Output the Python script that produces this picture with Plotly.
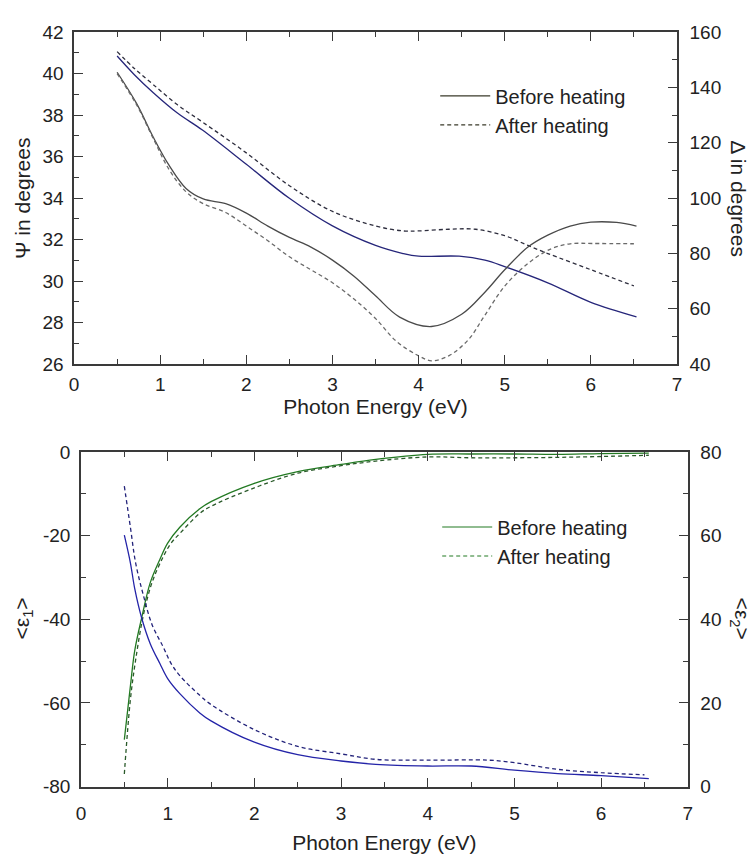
import plotly.graph_objects as go

# ---------------- Top panel: Psi (left axis) and Delta (right axis) ----------------
psi_before_x = [0.5, 0.7, 0.92, 1.2, 1.49, 2.0, 2.5, 3.0, 3.5, 3.82, 4.0, 4.47, 4.77, 5.0, 5.5, 6.0, 6.53]
psi_before_y = [40.85, 39.95, 39.08, 38.1, 37.28, 35.63, 33.99, 32.66, 31.72, 31.33, 31.2, 31.2, 31.01, 30.7, 29.92, 28.98, 28.28]

psi_after_x = [0.5, 0.7, 0.92, 1.2, 1.49, 2.0, 2.5, 3.0, 3.5, 3.82, 4.0, 4.35, 4.66, 5.0, 5.27, 5.5, 6.0, 6.5]
psi_after_y = [41.06, 40.25, 39.47, 38.5, 37.67, 36.18, 34.6, 33.36, 32.66, 32.42, 32.42, 32.5, 32.5, 32.19, 31.72, 31.33, 30.55, 29.77]

delta_before_x = [0.5, 0.73, 0.92, 1.1, 1.3, 1.5, 1.76, 2.0, 2.25, 2.5, 2.75, 3.0, 3.25, 3.5, 3.78, 4.15, 4.5, 4.77, 5.0, 5.27, 5.5, 5.76, 6.0, 6.3, 6.53]
delta_before_y = [145.5, 134.0, 122.0, 112.0, 103.5, 99.7, 98.0, 94.6, 89.9, 85.8, 82.3, 77.6, 71.8, 64.7, 57.0, 53.6, 58.0, 66.0, 74.1, 82.3, 86.6, 89.9, 91.3, 91.2, 89.9]

delta_after_x = [0.5, 0.73, 0.92, 1.1, 1.3, 1.5, 1.76, 2.0, 2.25, 2.5, 2.75, 3.0, 3.25, 3.5, 3.74, 4.0, 4.15, 4.35, 4.58, 4.77, 5.0, 5.27, 5.54, 5.76, 6.03, 6.5]
delta_after_y = [145.0, 133.5, 121.5, 110.5, 102.3, 98.0, 94.8, 89.9, 84.6, 78.8, 74.1, 69.4, 63.5, 56.5, 48.3, 43.0, 41.2, 43.0, 48.9, 57.7, 68.2, 76.4, 81.7, 83.5, 83.6, 83.5]

# ---------------- Bottom panel: eps1 (left axis) and eps2 (right axis) ----------------
eps1_before_x = [0.5, 0.57, 0.62, 0.7, 0.8, 0.91, 1.0, 1.14, 1.37, 1.5, 2.0, 2.5, 3.0, 3.4, 4.0, 4.5, 5.0, 5.5, 6.0, 6.55]
eps1_before_y = [-68.8, -56.0, -47.5, -39.7, -31.2, -25.7, -21.8, -18.0, -13.6, -11.9, -7.5, -4.7, -3.0, -1.8, -0.6, -0.5, -0.5, -0.6, -0.4, -0.3]

eps1_after_x = [0.5, 0.57, 0.63, 0.72, 0.82, 0.95, 1.04, 1.14, 1.37, 1.5, 2.0, 2.5, 3.0, 3.4, 4.0, 4.5, 5.0, 5.5, 6.0, 6.55]
eps1_after_y = [-77.0, -59.2, -49.8, -39.0, -31.2, -25.0, -21.8, -19.5, -14.7, -13.0, -8.6, -5.1, -3.3, -2.2, -1.2, -1.4, -1.4, -1.3, -1.1, -0.8]

eps2_before_x = [0.5, 0.57, 0.62, 0.7, 0.8, 0.91, 1.0, 1.14, 1.37, 1.5, 2.0, 2.5, 3.0, 3.4, 4.0, 4.5, 5.0, 5.5, 6.0, 6.55]
eps2_before_y = [60.1, 53.5, 47.3, 40.3, 34.1, 29.4, 25.8, 22.2, 17.6, 15.7, 10.6, 7.6, 6.1, 5.3, 4.9, 4.9, 3.9, 3.1, 2.6, 1.9]

eps2_after_x = [0.5, 0.57, 0.63, 0.72, 0.82, 0.95, 1.04, 1.14, 1.37, 1.5, 2.0, 2.5, 3.0, 3.4, 4.0, 4.7, 5.0, 5.5, 6.0, 6.5]
eps2_after_y = [71.8, 62.0, 53.5, 45.7, 38.7, 33.3, 29.4, 26.5, 21.8, 19.6, 13.6, 9.6, 7.8, 6.5, 6.3, 6.3, 5.7, 4.1, 3.3, 2.8]

legend_labels = ["Before heating", "After heating"]
eps1_tickvals = [-80, -60, -40, -20, 0]
eps1_ticktext = ["-80", "-60", "-40", "-20", "0"]

W, H = 754, 858
FONT = "Liberation Sans, Arial, sans-serif"
AX = "#3a3a3a"
DASH = "4px,3px"

fig = go.Figure()

def line(x, y, color, dash, xa, ya):
    fig.add_trace(go.Scatter(x=x, y=y, mode="lines", xaxis=xa, yaxis=ya,
                             line=dict(color=color, width=1.3, dash=dash, shape="spline", smoothing=1.0),
                             showlegend=False, hoverinfo="skip"))

line(psi_before_x, psi_before_y, "#26267a", "solid", "x", "y")
line(psi_after_x, psi_after_y, "#2e2e3e", DASH, "x", "y")
line(delta_before_x, delta_before_y, "#4a4a4a", "solid", "x", "y2")
line(delta_after_x, delta_after_y, "#6a6a6a", DASH, "x", "y2")

line(eps1_before_x, eps1_before_y, "#237a23", "solid", "x2", "y3")
line(eps1_after_x, eps1_after_y, "#2a5a2a", DASH, "x2", "y3")
line(eps2_before_x, eps2_before_y, "#2424a8", "solid", "x2", "y4")
line(eps2_after_x, eps2_after_y, "#23237a", DASH, "x2", "y4")

# legend entries
for name, dash in zip(legend_labels, ["solid", DASH]):
    fig.add_trace(go.Scatter(x=[None], y=[None], mode="lines", xaxis="x", yaxis="y", name=name,
                             line=dict(color="#3a3a2a", width=1.2, dash=dash), legend="legend"))
for name, dash in zip(legend_labels, ["solid", DASH]):
    fig.add_trace(go.Scatter(x=[None], y=[None], mode="lines", xaxis="x2", yaxis="y3", name=name,
                             line=dict(color="#237a23", width=1.2, dash=dash), legend="legend2"))

def px_x(p):
    return p / W

def px_y(p):
    return 1 - p / H

common = dict(showgrid=False, zeroline=False, showline=True, linecolor=AX, linewidth=1.5,
              ticks="inside", tickcolor=AX, tickwidth=1.2, ticklen=9,
              tickfont=dict(family=FONT, size=19, color="#222"))

fig.update_layout(
    width=W, height=H, autosize=False,
    margin=dict(l=0, r=0, t=0, b=0),
    paper_bgcolor="white", plot_bgcolor="white",
    font=dict(family=FONT, color="#222"),
    xaxis=dict(domain=[px_x(70), px_x(681)], range=[0, 7], dtick=1, anchor="y", mirror="ticks",
               minor=dict(dtick=0.5, ticks="inside", ticklen=5, tickcolor=AX),
               ticklabelstandoff=2,
               title=dict(text="Photon Energy (eV)", font=dict(size=21, family=FONT), standoff=6),
               **common),
    yaxis=dict(domain=[px_y(363), px_y(22.7)], range=[26, 42], dtick=2, anchor="x",
               minor=dict(dtick=1, ticks="inside", ticklen=5, tickcolor=AX),
               ticklabelstandoff=5, **common),
    yaxis2=dict(overlaying="y", side="right", range=[40, 160], dtick=20, anchor="x",
                minor=dict(dtick=10, ticks="inside", ticklen=5, tickcolor=AX),
                ticklabelstandoff=7, **common),
    xaxis2=dict(domain=[px_x(77), px_x(692)], range=[0, 7], dtick=1, anchor="y3", mirror="ticks",
                minor=dict(dtick=0.5, ticks="inside", ticklen=5, tickcolor=AX),
                ticklabelstandoff=9,
                title=dict(text="Photon Energy (eV)", font=dict(size=21, family=FONT), standoff=12),
                **common),
    yaxis3=dict(domain=[px_y(796), px_y(453)], range=[-80, 0], tickmode="array",
                tickvals=eps1_tickvals, ticktext=eps1_ticktext, anchor="x2",
                minor=dict(dtick=10, ticks="inside", ticklen=5, tickcolor=AX),
                ticklabelstandoff=5, **common),
    yaxis4=dict(overlaying="y3", side="right", range=[0, 80], dtick=20, anchor="x2",
                minor=dict(dtick=10, ticks="inside", ticklen=5, tickcolor=AX),
                ticklabelstandoff=7, **common),
    legend=dict(x=px_x(436), y=px_y(68), xanchor="left", yanchor="top",
                bgcolor="rgba(0,0,0,0)", borderwidth=0, itemwidth=50, tracegroupgap=0,
                font=dict(size=20, family=FONT, color="#222")),
    legend2=dict(x=px_x(438), y=px_y(510), xanchor="left", yanchor="top",
                 bgcolor="rgba(0,0,0,0)", borderwidth=0, itemwidth=50, tracegroupgap=0,
                 font=dict(size=20, family=FONT, color="#222")),
)

ann = [
    dict(text="Ψ in degrees", x=px_x(18), y=px_y(193), textangle=-90),
    dict(text="Δ in degrees", x=px_x(744), y=px_y(193), textangle=90),
    dict(text="&lt;ε<sub>1</sub>&gt;", x=px_x(18), y=px_y(624), textangle=-90),
    dict(text="&lt;ε<sub>2</sub>&gt;", x=px_x(746), y=px_y(624), textangle=90),
]
for a in ann:
    fig.add_annotation(xref="paper", yref="paper", showarrow=False, xanchor="center", yanchor="middle",
                       font=dict(size=21, family=FONT, color="#222"), **a)

fig.write_html("out.html")
